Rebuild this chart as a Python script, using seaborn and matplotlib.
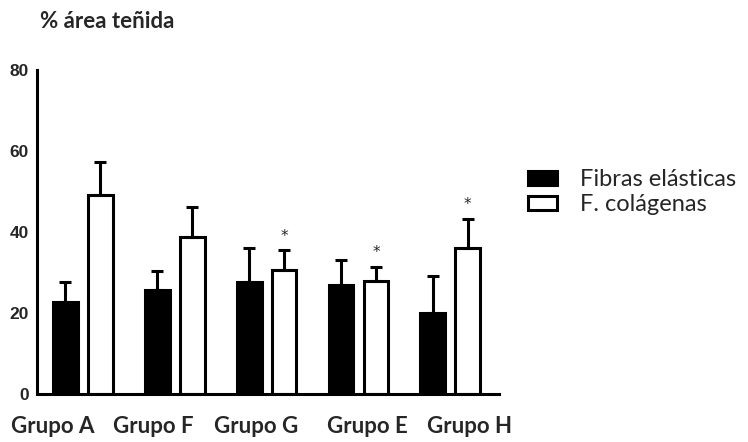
import pandas as pd
import matplotlib.pyplot as plt
import matplotlib.transforms as mtransforms
import seaborn as sns
import numpy as np

sns.set_style('white')
plt.rcParams['font.family'] = ['Lato', 'DejaVu Sans']

# Data
grupos = ['Grupo A', 'Grupo F', 'Grupo G', 'Grupo E', 'Grupo H']
series = ['Fibras elásticas', 'F. colágenas']
elasticas = [22.7, 25.6, 27.7, 26.9, 19.9]
elasticas_err = [5.0, 4.7, 8.4, 6.2, 9.1]
colagenas = [49.0, 38.7, 30.6, 27.8, 35.9]
colagenas_err = [8.2, 7.4, 4.8, 3.5, 7.3]
signif = [False, False, True, True, True]

df = pd.DataFrame({
    'grupo': grupos * 2,
    'tipo': [series[0]] * 5 + [series[1]] * 5,
    'valor': elasticas + colagenas,
})

fig = plt.figure(figsize=(7.48, 4.42), dpi=100)
ax = fig.add_axes([37 / 748, 1 - 393.7 / 442, (499 - 37) / 748, (393.7 - 70) / 442])

sns.barplot(data=df, x='grupo', y='valor', hue='tipo', order=grupos,
            hue_order=series, palette=['black', 'white'], edgecolor='black',
            linewidth=2.2, width=0.76, gap=0.29, errorbar=None, ax=ax)

# one-sided error bars on top of each bar
errs = elasticas_err + colagenas_err
vals = elasticas + colagenas
bars = ax.patches[:10]
xs = [b.get_x() + b.get_width() / 2 for b in bars]
ax.errorbar(xs, vals, yerr=[np.zeros(10), errs], fmt='none', ecolor='black',
            elinewidth=2.2, capsize=4.5, capthick=2.2, zorder=1)

# significance marks
for i, s in enumerate(signif):
    if s:
        ax.annotate('*', (xs[5 + i], colagenas[i] + colagenas_err[i]),
                    xytext=(0, 5), textcoords='offset points',
                    ha='center', va='bottom', fontsize=11, family='DejaVu Sans')

ax.set_ylim(0, 80)
ax.set_xlim(-0.5, 4.53)
ax.set_yticks([0, 20, 40, 60, 80])
ax.set_xlabel('')
ax.set_ylabel('')
sns.despine(ax=ax)
for sp in ['left', 'bottom']:
    ax.spines[sp].set_linewidth(2.2)
    ax.spines[sp].set_color('black')
ax.tick_params(axis='y', length=4, width=2, color='black', pad=2)
ax.tick_params(axis='x', length=5, width=2, color='black', pad=11)
for lab in ax.get_yticklabels():
    lab.set_family('Liberation Sans')
    lab.set_fontweight('bold')
    lab.set_fontsize(12.5)

# group labels are spread a bit wider than the ticks in the original
shift_px = [-30, -22, -10, 9, 19]
for lab, dx in zip(ax.get_xticklabels(), shift_px):
    lab.set_fontweight('bold')
    lab.set_fontsize(16)
    lab.set_transform(lab.get_transform() +
                      mtransforms.ScaledTranslation(dx / 100, 0, fig.dpi_scale_trans))

fig.text(40 / 748, 1 - 21 / 442, '% área teñida', fontsize=16, fontweight='bold',
         va='center', ha='left')

leg = ax.legend(loc='upper left', bbox_to_anchor=(507 / 748, 1 - 148 / 442),
                bbox_transform=fig.transFigure, frameon=False, fontsize=17,
                handlelength=1.2, handleheight=0.55, handletextpad=1.0,
                labelspacing=0.18)

fig.savefig('out.png', dpi=100)
